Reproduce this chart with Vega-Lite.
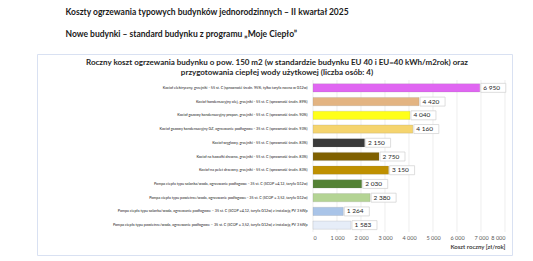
{
  "$schema": "https://vega.github.io/schema/vega-lite/v6.json",
  "width": 475,
  "height": 201,
  "autosize": {"type": "none"},
  "padding": {"left": 37, "top": 54, "right": 21, "bottom": 6},
  "background": "white",
  "config": {
    "locale": {"number": {"decimal": ",", "thousands": " ", "grouping": [3], "currency": ["", " zł"]}},
    "view": {"stroke": "#D9E1F2", "strokeWidth": 1},
    "font": "Lato"
  },
  "title": {
    "text": ["Roczny koszt ogrzewania budynku o pow. 150 m2 (w standardzie budynku EU 40 i EU=40 kWh/m2rok) oraz", "przygotowania ciepłej wody użytkowej (liczba osób: 4)"],
    "fontSize": 8,
    "fontWeight": "bold",
    "anchor": "middle",
    "frame": "group",
    "offset": -24,
    "dy": 46,
    "dx": 2.5,
    "lineHeight": 10,
    "color": "#262626"
  },
  "datasets": {
    "koszty": [
      {"kat": "Kocioł elektryczny,  grzejniki - 55 st. C  (sprawność średn. 95%, tylko taryfa nocna w G12w)", "koszt": 6950},
      {"kat": "Kocioł  kondensacyjny olej,  grzejniki - 55 st. C (sprawność średn. 89%)", "koszt": 4420},
      {"kat": "Kocioł gazowy kondensacyjny propan, grzejniki - 55 st. C (sprawność średn. 90%)", "koszt": 4040},
      {"kat": "Kocioł gazowy kondensacyjny GZ, ogrzewanie podłogowe - 35 st. C (sprawność średn. 93%)", "koszt": 4160},
      {"kat": "Kocioł węglowy,  grzejniki - 55 st. C (sprawność średn. 83%)", "koszt": 2150},
      {"kat": "Kocioł na kawałki drewna, grzejniki - 55 st. C (sprawność średn. 83%)", "koszt": 2750},
      {"kat": "Kocioł na pelet drzewny, grzejniki - 55 st. C (sprawność średn. 83%)", "koszt": 3150},
      {"kat": "Pompa ciepła typu solanka/woda, ogrzewanie podłogowe - 35 st. C (SCOP =4,12, taryfa G12w)", "koszt": 2030},
      {"kat": "Pompa ciepła typu powietrze/woda, ogrzewanie podłogowe - 35 st. C (SCOP = 3,52, taryfa G12w)", "koszt": 2380},
      {"kat": "Pompa ciepła typu solanka/woda, ogrzewanie podłogowe – 35 st. C (SCOP =4,12, taryfa G12w) z instalacją PV 3 kWp", "koszt": 1264},
      {"kat": "Pompa ciepła typu powietrze/woda, ogrzewanie podłogowe – 35 st. C (SCOP = 3,52, taryfa G12w) z instalacją PV 3 kWp", "koszt": 1583}
    ],
    "siatka": [{"x": 0}, {"x": 1000}, {"x": 2000}, {"x": 3000}, {"x": 4000}, {"x": 5000}, {"x": 6000}, {"x": 7000}, {"x": 8000}]
  },
  "layer": [
    {
      "data": {"name": "siatka"},
      "mark": {"type": "rule", "color": "#E6E6E6", "strokeWidth": 0.7},
      "encoding": {
        "x": {
          "field": "x", "type": "quantitative",
          "scale": {"domain": [0, 8000], "range": [276, 468]},
          "axis": {
            "values": [0, 1000, 2000, 3000, 4000, 5000, 6000, 7000, 8000],
            "format": ",d", "grid": false, "domain": false, "ticks": false,
            "offset": -21, "labelPadding": 1, "labelFontSize": 5.5, "labelColor": "#595959",
            "title": "Koszt roczny [zł/rok]", "titleAnchor": "end", "titleFontSize": 6,
            "titleFontWeight": "bold", "titleColor": "#404040", "titlePadding": 3
          }
        },
        "y": {"datum": 0, "type": "quantitative", "scale": {"domain": [0, 1], "range": [26, 178]}, "axis": null},
        "y2": {"datum": 1}
      }
    },
    {
      "data": {"name": "koszty"},
      "encoding": {
        "y": {
          "field": "kat", "type": "nominal", "sort": null,
          "scale": {"range": [27, 178], "paddingInner": 0.4, "paddingOuter": 0.2},
          "axis": {
            "title": ["Koszty ogrzewania typowych budynków jednorodzinnych – II kwartał 2025", "Nowe budynki – standard budynku z programu „Moje Ciepło”"],
            "titleAngle": 0, "titleAlign": "left", "titleBaseline": "middle",
            "titleX": -248, "titleY": -43, "titleLineHeight": 22,
            "titleFontSize": 8.5, "titleFontWeight": "bold", "titleColor": "#1A1A1A",
            "offset": -276, "labelFontSize": 3.7, "labelLimit": 0, "labelPadding": 6,
            "ticks": false, "domain": false, "labelColor": "#1A1A1A"
          }
        },
        "x": {
          "field": "koszt", "type": "quantitative",
          "scale": {"domain": [0, 8000], "range": [276, 468]},
          "axis": {
            "values": [0, 1000, 2000, 3000, 4000, 5000, 6000, 7000, 8000],
            "format": ",d", "grid": false, "domain": false, "ticks": false,
            "offset": -21, "labelPadding": 1, "labelFontSize": 5.5, "labelColor": "#595959",
            "title": "Koszt roczny [zł/rok]", "titleAnchor": "end", "titleFontSize": 6,
            "titleFontWeight": "bold", "titleColor": "#404040", "titlePadding": 3
          }
        }
      },
      "layer": [
        {
          "mark": {"type": "bar", "stroke": "#7F7F7F", "strokeWidth": 0.3, "strokeOpacity": 0.6},
          "encoding": {
            "color": {
              "field": "kat", "type": "nominal", "sort": null, "legend": null,
              "scale": {"range": ["#E066F2", "#E3B482", "#FFFF1A", "#F5D46E", "#3A3A3A", "#7F6000", "#BF9000", "#548235", "#B4D494", "#A9C4E8", "#E6EDF8"]}
            }
          }
        },
        {
          "mark": {"type": "point", "shape": "M0,-0.36 L2,-0.36 L2,0.36 L0,0.36 Z", "size": 625, "filled": true, "fill": "white", "stroke": "#D0D0D0", "strokeWidth": 0.7, "opacity": 1, "xOffset": 1}
        },
        {
          "mark": {"type": "text", "align": "left", "baseline": "middle", "dx": 3.5, "fontSize": 6.5, "color": "#262626"},
          "encoding": {
            "text": {"field": "koszt", "type": "quantitative", "format": ",d"}
          }
        }
      ]
    }
  ],
  "resolve": {"scale": {"y": "independent"}}
}
